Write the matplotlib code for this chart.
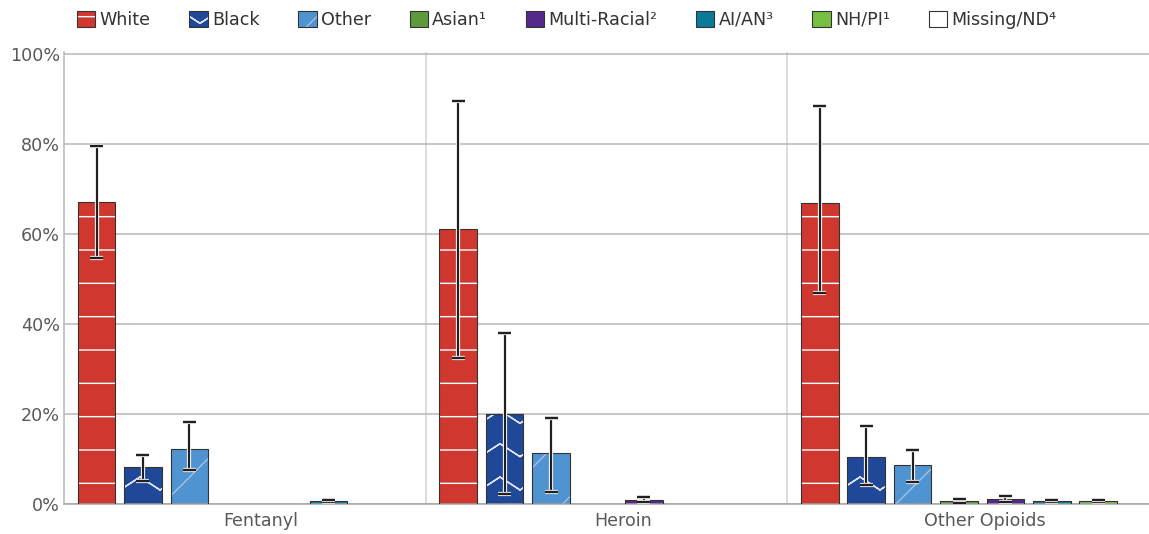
"""Opioid deaths by race, with confidence intervals, grouped by drug type."""

import warnings

import matplotlib
import matplotlib.hatch as mhatch
import matplotlib.patheffects as pe
import matplotlib.pyplot as plt
import numpy as np
from matplotlib.patches import Patch
from matplotlib.path import Path

warnings.filterwarnings("ignore", category=matplotlib.MatplotlibDeprecationWarning)

DPI = 200

groups = ["Fentanyl", "Heroin", "Other Opioids"]
races = ["White", "Black", "Other", "Asian\u00b9", "Multi-Racial\u00b2",
         "AI/AN\u00b3", "NH/PI\u00b9", "Missing/ND\u2074"]

# percent, lower and upper bound per race, one entry per group (None = no bar)
white = [67.0, 61.1, 66.8]
white_lo = [54.6, 32.5, 46.9]
white_hi = [79.6, 89.6, 88.3]

black = [8.2, 20.1, 10.5]
black_lo = [5.2, 2.3, 4.2]
black_hi = [10.9, 38.0, 17.3]

other = [12.3, 11.3, 8.6]
other_lo = [7.5, 2.7, 4.9]
other_hi = [18.2, 19.1, 11.9]

asian = [None, None, 0.7]
asian_lo = [None, None, 0.3]
asian_hi = [None, None, 1.2]

multi = [None, 0.9, 1.2]
multi_lo = [None, 0.4, 0.4]
multi_hi = [None, 1.6, 1.8]

aian = [0.6, None, 0.7]
aian_lo = [0.4, None, 0.5]
aian_hi = [0.9, None, 0.9]

nhpi = [None, None, 0.7]
nhpi_lo = [None, None, 0.5]
nhpi_hi = [None, None, 0.9]

missing = [None, None, None]
missing_lo = [None, None, None]
missing_hi = [None, None, None]

series = [
    (white, white_lo, white_hi),
    (black, black_lo, black_hi),
    (other, other_lo, other_hi),
    (asian, asian_lo, asian_hi),
    (multi, multi_lo, multi_hi),
    (aian, aian_lo, aian_hi),
    (nhpi, nhpi_lo, nhpi_hi),
    (missing, missing_lo, missing_hi),
]

# fill, hatch, hatch colour
styles = [
    ("#d0382f", "-", "white"),
    ("#1f4898", "^", (1, 1, 1, 0.85)),
    ("#4f93d1", "/", (1, 1, 1, 0.45)),
    ("#5d9a3e", "", "white"),
    ("#55298b", "", "white"),
    ("#0b7a97", "", "white"),
    ("#78be43", "", "white"),
    ("white", "", "white"),
]


class ChevronHatch(mhatch.HatchPatternBase):
    """Rows of zigzag lines, used on the 'Black' bars.

    Each row runs forward and back along itself so the (filled) hatch
    path encloses no area.
    """

    def __init__(self, hatch, density):
        self.num_rows = hatch.count("^") * density
        self.num_peaks = 5
        n = 2 * self.num_peaks + 1
        self.num_vertices = self.num_rows * (2 * n - 1)

    def set_vertices_and_codes(self, vertices, codes):
        n = 2 * self.num_peaks + 1
        xs = np.linspace(0.0, 1.0, n)
        rise = np.tile([0.0, 0.065], self.num_peaks + 1)[:n]
        xs = np.concatenate([xs, xs[-2::-1]])
        rise = np.concatenate([rise, rise[-2::-1]])
        m = len(xs)
        for i in range(self.num_rows):
            y0 = (i + 0.3) / self.num_rows
            vertices[i * m:(i + 1) * m, 0] = xs
            vertices[i * m:(i + 1) * m, 1] = y0 + rise
            codes[i * m] = Path.MOVETO
            codes[i * m + 1:(i + 1) * m] = Path.LINETO


mhatch._hatch_types.append(ChevronHatch)


def px(v):
    """pixels -> points"""
    return v * 72.0 / DPI


def main() -> None:
    plt.rcParams["font.family"] = "DejaVu Sans"
    plt.rcParams["font.size"] = 6.3
    plt.rcParams["hatch.linewidth"] = px(1.4)

    fig = plt.figure(figsize=(1149 / DPI, 534 / DPI), dpi=DPI)
    ax = fig.add_axes([64 / 1149, 30 / 534, 1085 / 1149, 452 / 534])

    first, step, width = 0.09, 0.1283, 0.104
    err_color = "#231f20"
    stroke = [pe.withStroke(linewidth=px(4.2), foreground="white")]

    for si, ((vals, lo, hi), (fc, hatch, hc)) in enumerate(zip(series, styles)):
        idx = [gi for gi, v in enumerate(vals) if v is not None]
        if not idx:
            continue
        xs = np.array([gi + first + si * step for gi in idx])
        v = np.array([vals[gi] for gi in idx])
        ax.bar(xs, v, width, color=fc, hatch=hatch, edgecolor=hc,
               linewidth=0, zorder=2)
        ax.bar(xs, v, width, fill=False, edgecolor="#333333",
               linewidth=px(1.1), zorder=3)
        yerr = np.array([[vals[gi] - lo[gi] for gi in idx],
                         [hi[gi] - vals[gi] for gi in idx]])
        _, caps, bars = ax.errorbar(xs, v, yerr=yerr, fmt="none",
                                    ecolor=err_color, elinewidth=px(2.2),
                                    capsize=px(6.5), capthick=px(2.4), zorder=4)
        for art in list(caps) + list(bars):
            art.set_path_effects(stroke)

    for x in (1, 2):
        ax.axvline(x, color="#d2d2d2", linewidth=px(1.5), zorder=0.5)

    ax.set_xlim(0, 3)
    ax.set_ylim(0, 100.4)
    ax.set_yticks(range(0, 101, 20))
    ax.set_yticklabels([f"{t}%" for t in range(0, 101, 20)])
    ax.set_xticks([gi + 0.545 for gi in range(len(groups))])
    ax.set_xticklabels(groups)
    ax.tick_params(axis="y", length=0, pad=px(4), colors="#58595b")
    ax.tick_params(axis="x", length=0, pad=px(8), colors="#58595b")
    ax.yaxis.grid(True, color="#b5b5b5", linewidth=px(1.5))
    ax.set_axisbelow(True)
    for side in ("top", "right"):
        ax.spines[side].set_visible(False)
    ax.spines["left"].set_color("#b5b5b5")
    ax.spines["left"].set_linewidth(px(1.5))
    ax.spines["bottom"].set_color("#a5a5a5")
    ax.spines["bottom"].set_linewidth(px(1.5))

    handles = []
    for fc, hatch, hc in styles:
        handles.append((
            Patch(facecolor=fc, hatch=hatch, edgecolor=hc, linewidth=0),
            Patch(facecolor="none", edgecolor="#333333", linewidth=px(1.1)),
        ))
    leg = fig.legend(
        handles, races, ncol=8, loc="center left",
        bbox_to_anchor=(77 / 1149, 1 - 20 / 534), frameon=False,
        borderpad=0, borderaxespad=0, handlelength=1.05, handleheight=1.0,
        handletextpad=0.25, columnspacing=2.2,
    )
    for text in leg.get_texts():
        text.set_color("#333333")

    fig.savefig("out.png", dpi=DPI)


if __name__ == "__main__":
    main()
